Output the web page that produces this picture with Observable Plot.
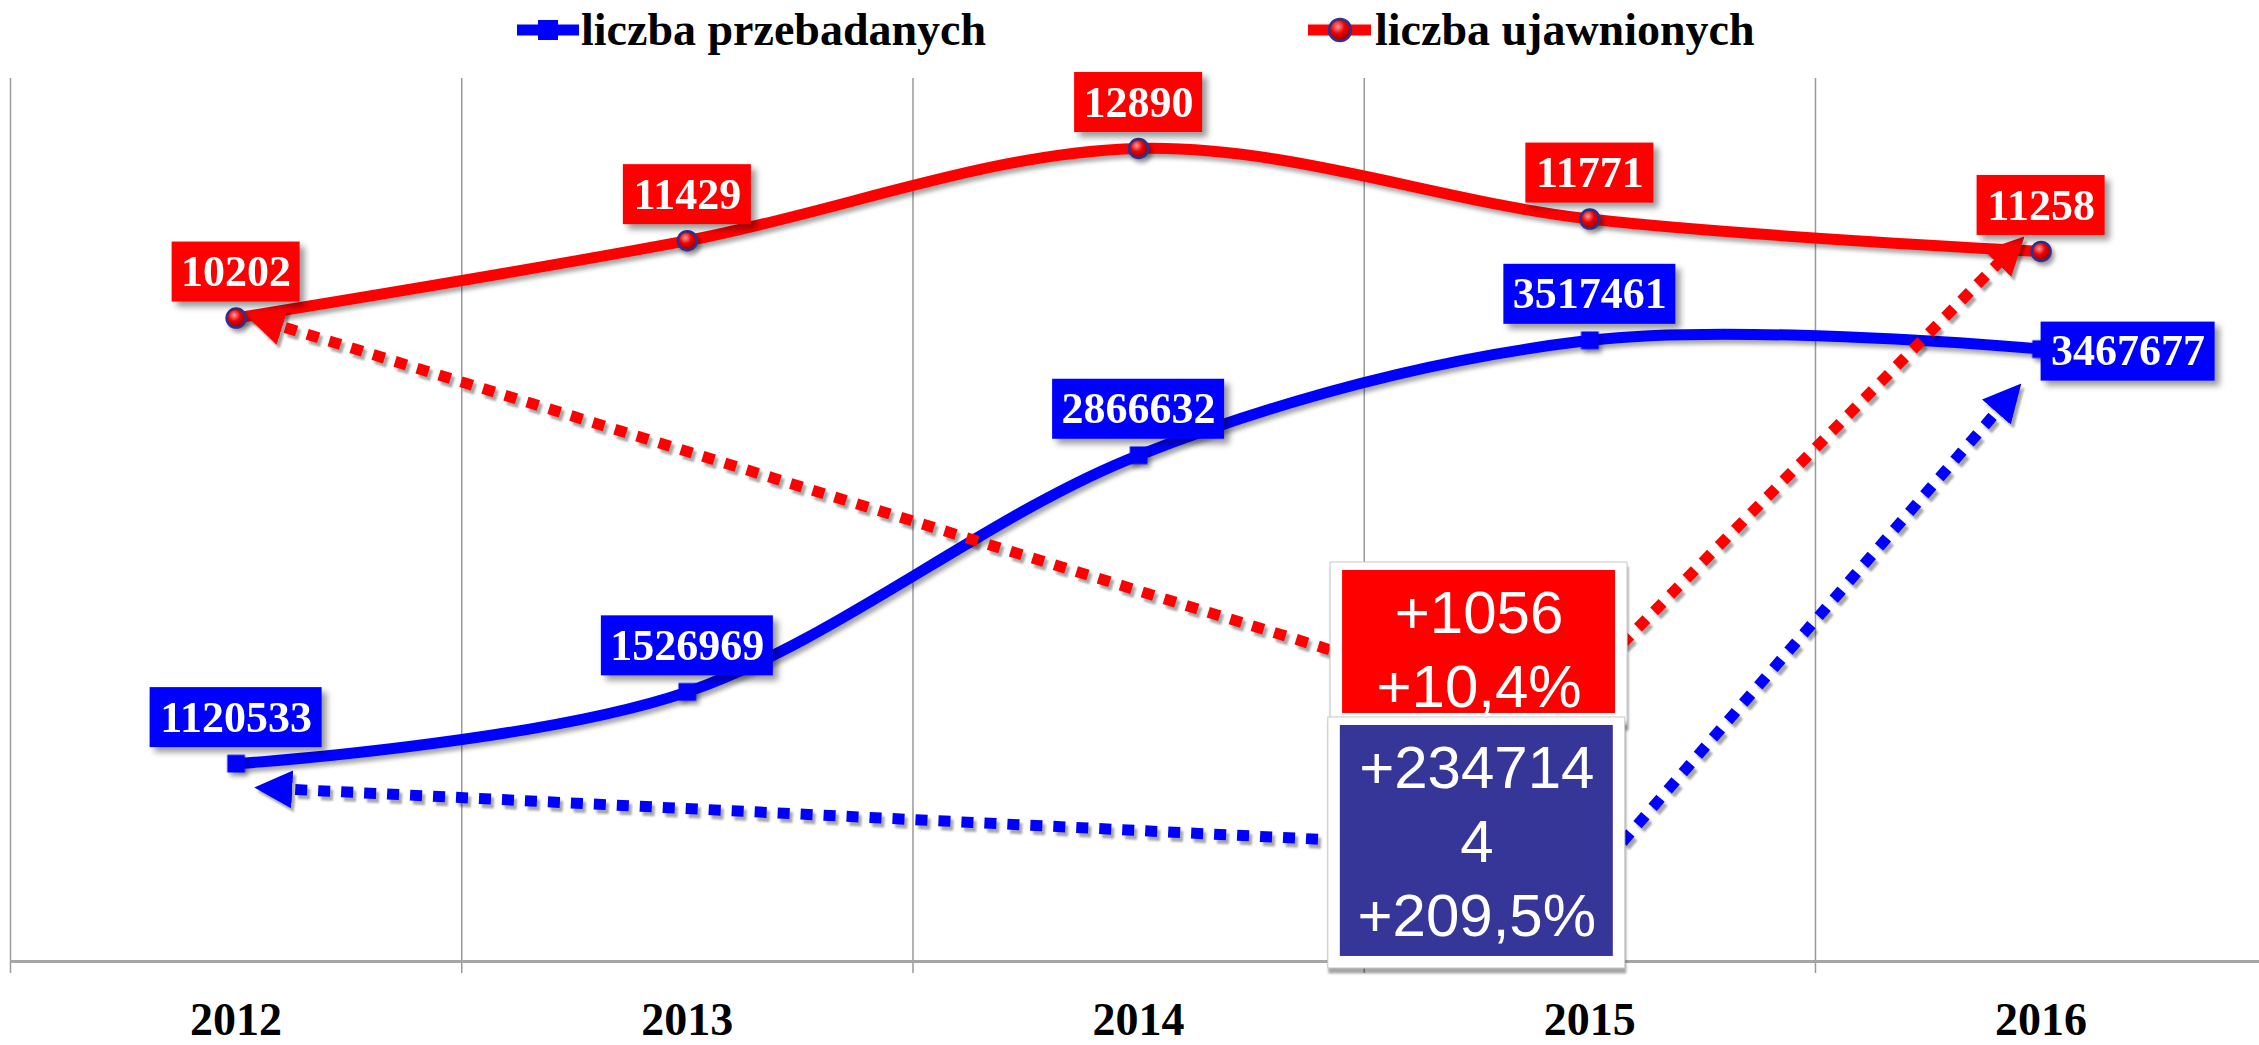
<!DOCTYPE html>
<html>
<head>
<meta charset="utf-8">
<script src="https://cdn.jsdelivr.net/npm/d3@7"></script>
<script src="https://cdn.jsdelivr.net/npm/@observablehq/plot@0.6"></script>
<style>
  body { margin: 0; background: #fff; }
  #wrap { position: relative; width: 2259px; height: 1045px; overflow: hidden; background: #fff; }
  #legend { position: absolute; left: 0; top: 0; width: 2259px; height: 60px; }
  #legend .item-text { position: absolute; top: 7px; font: bold 46px "Liberation Serif", "Times New Roman", serif; line-height: 46px; white-space: nowrap; color: #000; }
  #legend svg { position: absolute; overflow: visible; }
  #chart { position: absolute; left: 0; top: 60px; }
  #chart g[aria-label="line"]:not([stroke-dasharray]), #chart g[aria-label="dot"] { filter: drop-shadow(3px 4px 2px rgba(0,0,0,0.35)); }
  #chart g[aria-label="line"][stroke-dasharray] { filter: drop-shadow(3px 4px 1px rgba(0,0,0,0.35)); }
  #chart g[aria-label="rect"][fill="#0000ff"], #chart g[aria-label="rect"][fill="#ff0000"] { filter: drop-shadow(5px 5px 3px rgba(0,0,0,0.4)); }
  #chart g[aria-label="rect"][fill="white"] { filter: drop-shadow(1px 5px 1px rgba(0,0,0,0.35)); }
  #chart g[aria-label="line"][stroke-dasharray][stroke="#ff0000"] path { marker-start: url(#arrowRed); marker-end: url(#arrowRed); }
  #chart g[aria-label="line"][stroke-dasharray][stroke="#0000ff"] path { marker-start: url(#arrowBlue); marker-end: url(#arrowBlue); }
</style>
</head>
<body>
<svg width="0" height="0" style="position:absolute">
  <defs>
    <radialGradient id="ball" cx="0.4" cy="0.35" r="0.7">
      <stop offset="0" stop-color="#ff9a9a"/>
      <stop offset="0.45" stop-color="#ee0000"/>
      <stop offset="1" stop-color="#8a0000"/>
    </radialGradient>
    <marker id="arrowRed" viewBox="0 0 38 38" refX="20" refY="19" markerWidth="38" markerHeight="38" markerUnits="userSpaceOnUse" orient="auto-start-reverse">
      <path d="M0,0L38,19L0,38Z" fill="#ff0000"/>
    </marker>
    <marker id="arrowBlue" viewBox="0 0 38 38" refX="20" refY="19" markerWidth="38" markerHeight="38" markerUnits="userSpaceOnUse" orient="auto-start-reverse">
      <path d="M0,0L38,19L0,38Z" fill="#0000ff"/>
    </marker>
  </defs>
</svg>
<div id="wrap">
  <div id="legend"></div>
  <div id="chart"></div>
</div>
<script>
// ---- data ----
const years = [2012, 2013, 2014, 2015, 2016];
const examined = [1120533, 1526969, 2866632, 3517461, 3467677]; // liczba przebadanych
const detected = [10202, 11429, 12890, 11771, 11258];          // liczba ujawnionych
const seriesLabels = ["liczba przebadanych", "liczba ujawnionych"];
const examinedAxisMax = 5000000;
const detectedAxisMax = 14000;
const gridYears = [2011.5, 2012.5, 2013.5, 2014.5, 2015.5];
const detectedChangeText = ["+1056", "+10,4%"];
const examinedChangeText = ["+234714", "4", "+209,5%"];
// change arrows: year / value in each series' own units
const detectedArrowYears = [2012.06, 2014.91, 2015.935];
const detectedArrowValues = [10160, 3870, 11290];
const examinedArrowYears = [2012.08, 2015.05, 2015.93];
const examinedArrowValues = [980000, 611500, 3196500];

// ---- tables ----
const blue = years.map((year, i) => ({year, value: examined[i], f: examined[i] / examinedAxisMax}));
const red = years.map((year, i) => ({year, value: detected[i], f: detected[i] / detectedAxisMax}));
const redArrow = detectedArrowYears.map((year, i) => ({year, f: detectedArrowValues[i] / detectedAxisMax}));
const blueArrow = examinedArrowYears.map((year, i) => ({year, f: examinedArrowValues[i] / examinedAxisMax}));
const redBox = [{x1: 2014.452, x2: 2015.057, y1: 0.2809, y2: 0.4428, ty: 0.3564, text: detectedChangeText.join("\n")}];
const blueBox = [{x1: 2014.447, x2: 2015.052, y1: 0.0057, y2: 0.2673, ty: 0.139, text: examinedChangeText.join("\n")}];

const RED = "#ff0000", BLUE = "#0000ff", NAVY = "#363699";
const serif = "Liberation Serif, Times New Roman, serif";
const sans = "Liberation Sans, Arial, sans-serif";
const labelFont = {fill: "white", fontSize: 44, fontWeight: "bold", fontFamily: serif};

const plot = Plot.plot({
  width: 2259,
  height: 985,
  marginLeft: 10,
  marginRight: 0,
  marginTop: 18,
  marginBottom: 84,
  x: {domain: [2011.5, 2016.484], axis: null},
  y: {domain: [0, 1], axis: null},
  style: {background: "white", overflow: "visible"},
  marks: [
    Plot.ruleX(gridYears, {x: d => d, stroke: "#9a9a9a", strokeWidth: 1.5, insetBottom: -12}),
    Plot.ruleY([0], {stroke: "#a6a6a6", strokeWidth: 3}),
    Plot.line(blue, {x: "year", y: "f", stroke: BLUE, strokeWidth: 11, curve: "cardinal"}),
    Plot.line(red, {x: "year", y: "f", stroke: RED, strokeWidth: 11, curve: "cardinal"}),
    Plot.line(blueArrow, {x: "year", y: "f", stroke: BLUE, strokeWidth: 11, strokeDasharray: "12,11", strokeLinecap: "butt", strokeLinejoin: "miter"}),
    Plot.line(redArrow, {x: "year", y: "f", stroke: RED, strokeWidth: 11, strokeDasharray: "12,11", strokeLinecap: "butt", strokeLinejoin: "miter"}),
    Plot.dot(blue, {x: "year", y: "f", symbol: "square", r: 10, fill: BLUE}),
    Plot.dot(red, {x: "year", y: "f", r: 9.5, fill: "url(#ball)", stroke: "#2e3192", strokeWidth: 2.5}),
    Plot.rect(blue.filter(d => d.year < 2016), {x1: "year", x2: "year", y1: "f", y2: "f", insetLeft: -86, insetRight: -86, insetTop: -76, insetBottom: 16, fill: BLUE}),
    Plot.rect(blue.filter(d => d.year === 2016), {x1: "year", x2: "year", y1: "f", y2: "f", insetLeft: 0, insetRight: -174, insetTop: -27, insetBottom: -32, fill: BLUE}),
    Plot.rect(red, {x1: "year", x2: "year", y1: "f", y2: "f", insetLeft: -64, insetRight: -64, insetTop: -76, insetBottom: 16, fill: RED}),
    Plot.text(blue.filter(d => d.year < 2016), {x: "year", y: "f", text: d => String(d.value), dy: -46, ...labelFont}),
    Plot.text(blue.filter(d => d.year === 2016), {x: "year", y: "f", text: d => String(d.value), dx: 87, dy: 2, ...labelFont}),
    Plot.text(red, {x: "year", y: "f", text: d => String(d.value), dy: -46, ...labelFont}),
    // change annotation boxes
    Plot.rect(redBox, {x1: "x1", x2: "x2", y1: "y1", y2: "y2", insetLeft: -12, insetRight: -12, insetTop: -8, insetBottom: -12, fill: "white", stroke: "#c8c8c8", strokeWidth: 1}),
    Plot.rect(redBox, {x1: "x1", x2: "x2", y1: "y1", y2: "y2", fill: "red"}),
    Plot.text(redBox, {x: d => (d.x1 + d.x2) / 2, y: "ty", text: "text", fill: "white", fontSize: 60, fontFamily: sans, lineHeight: 1.233}),
    Plot.rect(blueBox, {x1: "x1", x2: "x2", y1: "y1", y2: "y2", insetLeft: -12, insetRight: -12, insetTop: -8, insetBottom: -12, fill: "white", stroke: "#c8c8c8", strokeWidth: 1}),
    Plot.rect(blueBox, {x1: "x1", x2: "x2", y1: "y1", y2: "y2", fill: NAVY}),
    Plot.text(blueBox, {x: d => (d.x1 + d.x2) / 2, y: "ty", text: "text", fill: "white", fontSize: 60, fontFamily: sans, lineHeight: 1.233}),
    Plot.axisX(years, {tickSize: 0, tickPadding: 41, tickFormat: d => String(d), fontSize: 46, fontWeight: "bold", fontFamily: serif})
  ]
});
document.getElementById("chart").appendChild(plot);

// ---- legend (HTML above the chart) ----
const legend = document.getElementById("legend");
legend.innerHTML = `
  <svg style="left:517px;top:18px" width="62" height="24">
    <line x1="0" y1="12" x2="62" y2="12" stroke="${BLUE}" stroke-width="11"/>
    <rect x="21" y="2" width="20" height="20" fill="${BLUE}"/>
  </svg>
  <div class="item-text" style="left:581px">${seriesLabels[0]}</div>
  <svg style="left:1308px;top:18px" width="63" height="24">
    <line x1="0" y1="12" x2="63" y2="12" stroke="${RED}" stroke-width="11"/>
    <circle cx="32" cy="12" r="11" fill="url(#ball)" stroke="#2e3192" stroke-width="2.5"/>
  </svg>
  <div class="item-text" style="left:1375px">${seriesLabels[1]}</div>
`;
</script>
</body>
</html>
